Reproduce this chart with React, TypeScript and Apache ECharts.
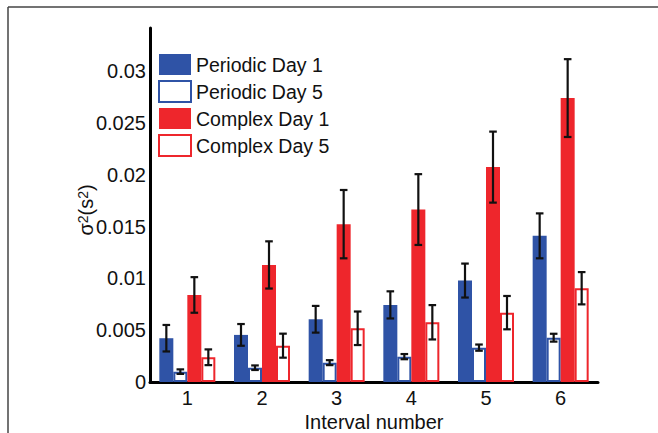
import React, { useEffect, useRef } from "react";
import * as echarts from "echarts";

const categories = ["1", "2", "3", "4", "5", "6"];
const seriesNames = ["Periodic Day 1", "Periodic Day 5", "Complex Day 1", "Complex Day 5"];
const periodicDay1 = [0.00423, 0.00455, 0.00606, 0.00745, 0.0098, 0.01412];
const periodicDay1Err = [0.00128, 0.00105, 0.00129, 0.00131, 0.00164, 0.00217];
const periodicDay5 = [0.001, 0.00138, 0.00187, 0.00245, 0.00332, 0.00428];
const periodicDay5Err = [0.00022, 0.00022, 0.00024, 0.00025, 0.0003, 0.00038];
const complexDay1 = [0.00841, 0.01131, 0.01525, 0.01666, 0.02076, 0.02743];
const complexDay1Err = [0.00172, 0.00228, 0.00330, 0.00342, 0.00343, 0.00376];
const complexDay5 = [0.00239, 0.00351, 0.00519, 0.00577, 0.0067, 0.00906];
const complexDay5Err = [0.00076, 0.00116, 0.00162, 0.00166, 0.00161, 0.00156];

const BLUE = "#2f53a6";
const RED = "#ee262c";
const FONT = "'Liberation Sans', Arial, sans-serif";
const BAR_W = 14;

export default function App() {
  const ref = useRef<HTMLDivElement>(null);
  useEffect(() => {
    document.body.style.margin = "0";
    const chart = echarts.init(ref.current!, null, { renderer: "svg" });
    const values = [periodicDay1, periodicDay5, complexDay1, complexDay5];
    const errs = [periodicDay1Err, periodicDay5Err, complexDay1Err, complexDay5Err];
    const styles = [
      { color: BLUE, borderWidth: 0 },
      { color: "#ffffff", borderColor: BLUE, borderWidth: 2 },
      { color: RED, borderWidth: 0 },
      { color: "#ffffff", borderColor: RED, borderWidth: 2 },
    ];
    const barSeries = seriesNames.map((name, i) => ({
      name,
      type: "bar",
      data: values[i],
      barWidth: BAR_W,
      barGap: "0%",
      itemStyle: styles[i],
      z: 2,
    }));
    const errSeries = seriesNames.map((name, i) => ({
      name: name + " error",
      type: "custom",
      z: 5,
      encode: { x: 0, y: [1, 2] },
      data: values[i].map((v, k) => [k, v - errs[i][k], v + errs[i][k]]),
      renderItem: (params: any, api: any) => {
        const c = api.value(0);
        const lo = api.coord([c, api.value(1)]);
        const hi = api.coord([c, api.value(2)]);
        const x = lo[0] + (i - 1.5) * BAR_W;
        const cap = 3.8;
        const st = { stroke: "#111111", lineWidth: 2.2 };
        return {
          type: "group",
          children: [
            { type: "line", shape: { x1: x, y1: hi[1], x2: x, y2: lo[1] }, style: st },
            { type: "line", shape: { x1: x - cap, y1: hi[1], x2: x + cap, y2: hi[1] }, style: st },
            { type: "line", shape: { x1: x - cap, y1: lo[1], x2: x + cap, y2: lo[1] }, style: st },
          ],
        };
      },
    }));
    chart.setOption({
      animation: false,
      backgroundColor: "#ffffff",
      textStyle: { fontFamily: FONT },
      grid: { left: 150, right: 60, top: 28, bottom: 51, containLabel: false, outerBoundsMode: "none" },
      legend: {
        data: seriesNames,
        orient: "vertical",
        left: 153,
        top: 49,
        itemWidth: 32,
        itemHeight: 21,
        itemGap: 5,
        icon: "rect",
        textStyle: { fontSize: 19.5, color: "#111111", fontFamily: FONT, lineHeight: 21 },
      },
      xAxis: {
        type: "category",
        data: categories,
        name: "Interval number",
        nameLocation: "middle",
        nameGap: 30,
        nameMoveOverlap: false,
        nameTextStyle: { fontSize: 20, color: "#111111", fontFamily: FONT },
        axisLine: { lineStyle: { color: "#000000", width: 3 } },
        axisTick: { show: false },
        axisLabel: { fontSize: 20, color: "#111111", margin: 6, fontFamily: FONT },
      },
      yAxis: {
        type: "value",
        min: 0,
        max: 0.0342,
        interval: 0.005,
        name: "{b|σ}{sup|2}{b|(s}{sup|2}{b|)}",
        nameLocation: "middle",
        nameRotate: 90,
        nameGap: 54,
        nameMoveOverlap: false,
        nameTextStyle: {
          fontSize: 20,
          color: "#111111",
          fontFamily: FONT,
          padding: [0, 10, 0, 0],
          rich: {
            b: { fontSize: 20, color: "#111111", fontFamily: FONT, lineHeight: 20, verticalAlign: "middle" },
            sup: { fontSize: 14, color: "#111111", fontFamily: FONT, lineHeight: 14, verticalAlign: "top", padding: [0, 0, 26, 0] },
          },
        },
        axisLine: { show: true, lineStyle: { color: "#000000", width: 3 } },
        axisTick: { show: false },
        splitLine: { show: false },
        axisLabel: {
          fontSize: 20,
          color: "#111111",
          margin: 4,
          fontFamily: FONT,
          showMaxLabel: false,
          formatter: (v: number) => String(parseFloat(v.toFixed(4))),
        },
      },
      graphic: [
        { type: "line", shape: { x1: 8, y1: 7, x2: 658, y2: 7 }, style: { stroke: "#444444", lineWidth: 1.5 } },
        { type: "line", shape: { x1: 8, y1: 7, x2: 8, y2: 433 }, style: { stroke: "#444444", lineWidth: 1.5 } },
      ],
      series: [...barSeries, ...errSeries],
    });
    return () => chart.dispose();
  }, []);
  return <div ref={ref} style={{ width: 658, height: 433 }} />;
}
